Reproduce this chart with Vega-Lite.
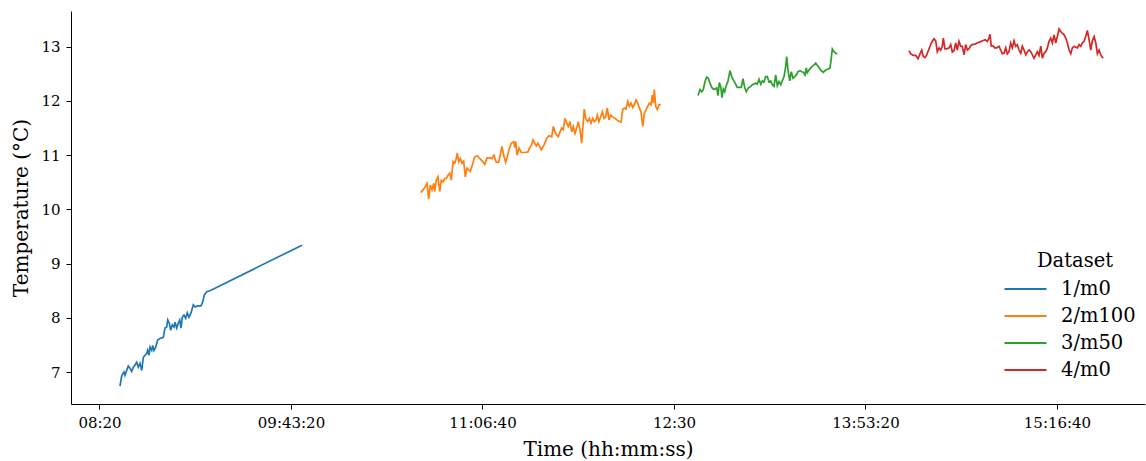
{
  "$schema": "https://vega.github.io/schema/vega-lite/v6.json",
  "width": 1074,
  "height": 393,
  "autosize": {"type": "none"},
  "padding": {"left": 71, "top": 11, "right": 1, "bottom": 57},
  "background": "white",
  "config": {
    "view": {"stroke": null},
    "font": "DejaVu Serif",
    "axis": {
      "grid": false,
      "domainColor": "black",
      "domainWidth": 1,
      "tickColor": "black",
      "tickSize": 5,
      "tickWidth": 1,
      "labelColor": "black",
      "titleColor": "black",
      "labelFont": "DejaVu Serif",
      "titleFont": "DejaVu Serif",
      "titleFontWeight": "normal"
    },
    "legend": {
      "labelFont": "DejaVu Serif",
      "titleFont": "DejaVu Serif",
      "titleFontWeight": "normal",
      "labelColor": "black",
      "titleColor": "black"
    }
  },
  "data": {
    "values": [
      {"d":"1/m0","t":30535,"v":6.74},{"d":"1/m0","t":30574,"v":6.91},{"d":"1/m0","t":30601,"v":6.96},{"d":"1/m0","t":30640,"v":7.0},
      {"d":"1/m0","t":30666,"v":6.94},{"d":"1/m0","t":30710,"v":7.03},{"d":"1/m0","t":30752,"v":7.11},{"d":"1/m0","t":30796,"v":7.07},
      {"d":"1/m0","t":30841,"v":7.01},{"d":"1/m0","t":30883,"v":7.09},{"d":"1/m0","t":30927,"v":7.13},{"d":"1/m0","t":30972,"v":7.18},
      {"d":"1/m0","t":31013,"v":7.09},{"d":"1/m0","t":31057,"v":7.16},{"d":"1/m0","t":31102,"v":7.03},{"d":"1/m0","t":31144,"v":7.27},
      {"d":"1/m0","t":31188,"v":7.31},{"d":"1/m0","t":31232,"v":7.34},{"d":"1/m0","t":31259,"v":7.40},{"d":"1/m0","t":31292,"v":7.31},
      {"d":"1/m0","t":31319,"v":7.46},{"d":"1/m0","t":31363,"v":7.40},{"d":"1/m0","t":31389,"v":7.49},{"d":"1/m0","t":31423,"v":7.40},
      {"d":"1/m0","t":31467,"v":7.46},{"d":"1/m0","t":31520,"v":7.59},{"d":"1/m0","t":31580,"v":7.62},{"d":"1/m0","t":31666,"v":7.64},
      {"d":"1/m0","t":31710,"v":7.81},{"d":"1/m0","t":31755,"v":7.83},{"d":"1/m0","t":31781,"v":7.96},{"d":"1/m0","t":31822,"v":7.90},
      {"d":"1/m0","t":31859,"v":7.77},{"d":"1/m0","t":31901,"v":7.87},{"d":"1/m0","t":31945,"v":7.83},{"d":"1/m0","t":31971,"v":7.92},
      {"d":"1/m0","t":32016,"v":7.81},{"d":"1/m0","t":32057,"v":7.90},{"d":"1/m0","t":32094,"v":7.96},{"d":"1/m0","t":32128,"v":7.81},
      {"d":"1/m0","t":32162,"v":8.01},{"d":"1/m0","t":32206,"v":8.05},{"d":"1/m0","t":32251,"v":7.99},{"d":"1/m0","t":32292,"v":8.09},
      {"d":"1/m0","t":32337,"v":8.01},{"d":"1/m0","t":32389,"v":8.09},{"d":"1/m0","t":32449,"v":8.24},{"d":"1/m0","t":32494,"v":8.20},
      {"d":"1/m0","t":32564,"v":8.22},{"d":"1/m0","t":32650,"v":8.22},{"d":"1/m0","t":32695,"v":8.29},{"d":"1/m0","t":32736,"v":8.42},
      {"d":"1/m0","t":32799,"v":8.48},{"d":"1/m0","t":32885,"v":8.50},{"d":"1/m0","t":35287,"v":9.34},

      {"d":"2/m100","t":38387,"v":10.31},{"d":"2/m100","t":38447,"v":10.36},{"d":"2/m100","t":38507,"v":10.42},{"d":"2/m100","t":38551,"v":10.48},
      {"d":"2/m100","t":38595,"v":10.19},{"d":"2/m100","t":38637,"v":10.45},{"d":"2/m100","t":38682,"v":10.36},{"d":"2/m100","t":38726,"v":10.48},
      {"d":"2/m100","t":38752,"v":10.33},{"d":"2/m100","t":38794,"v":10.54},{"d":"2/m100","t":38838,"v":10.60},{"d":"2/m100","t":38883,"v":10.33},
      {"d":"2/m100","t":38924,"v":10.54},{"d":"2/m100","t":38969,"v":10.51},{"d":"2/m100","t":39013,"v":10.57},{"d":"2/m100","t":39055,"v":10.57},
      {"d":"2/m100","t":39099,"v":10.63},{"d":"2/m100","t":39144,"v":10.67},{"d":"2/m100","t":39186,"v":10.54},{"d":"2/m100","t":39230,"v":10.88},
      {"d":"2/m100","t":39274,"v":10.85},{"d":"2/m100","t":39316,"v":10.94},{"d":"2/m100","t":39342,"v":11.04},{"d":"2/m100","t":39379,"v":10.88},
      {"d":"2/m100","t":39421,"v":10.94},{"d":"2/m100","t":39465,"v":10.85},{"d":"2/m100","t":39509,"v":10.89},{"d":"2/m100","t":39551,"v":10.60},
      {"d":"2/m100","t":39595,"v":10.76},{"d":"2/m100","t":39640,"v":10.73},{"d":"2/m100","t":39682,"v":10.70},{"d":"2/m100","t":39734,"v":10.82},
      {"d":"2/m100","t":39797,"v":10.97},{"d":"2/m100","t":39864,"v":10.99},{"d":"2/m100","t":39927,"v":10.94},{"d":"2/m100","t":39995,"v":10.89},
      {"d":"2/m100","t":40058,"v":10.83},{"d":"2/m100","t":40118,"v":10.95},{"d":"2/m100","t":40188,"v":10.95},{"d":"2/m100","t":40248,"v":10.94},
      {"d":"2/m100","t":40300,"v":11.00},{"d":"2/m100","t":40360,"v":10.87},{"d":"2/m100","t":40423,"v":10.87},{"d":"2/m100","t":40475,"v":11.04},
      {"d":"2/m100","t":40509,"v":11.16},{"d":"2/m100","t":40562,"v":10.97},{"d":"2/m100","t":40606,"v":10.87},{"d":"2/m100","t":40648,"v":10.97},
      {"d":"2/m100","t":40692,"v":11.10},{"d":"2/m100","t":40752,"v":11.22},{"d":"2/m100","t":40815,"v":11.25},{"d":"2/m100","t":40841,"v":11.14},
      {"d":"2/m100","t":40867,"v":11.25},{"d":"2/m100","t":40901,"v":11.00},{"d":"2/m100","t":40953,"v":11.13},{"d":"2/m100","t":41013,"v":11.05},
      {"d":"2/m100","t":41102,"v":11.05},{"d":"2/m100","t":41188,"v":11.06},{"d":"2/m100","t":41232,"v":11.14},{"d":"2/m100","t":41274,"v":11.18},
      {"d":"2/m100","t":41319,"v":11.28},{"d":"2/m100","t":41363,"v":11.22},{"d":"2/m100","t":41405,"v":11.17},{"d":"2/m100","t":41449,"v":11.22},
      {"d":"2/m100","t":41494,"v":11.16},{"d":"2/m100","t":41535,"v":11.10},{"d":"2/m100","t":41616,"v":11.20},{"d":"2/m100","t":41677,"v":11.31},
      {"d":"2/m100","t":41737,"v":11.36},{"d":"2/m100","t":41807,"v":11.34},{"d":"2/m100","t":41851,"v":11.53},{"d":"2/m100","t":41893,"v":11.43},
      {"d":"2/m100","t":41938,"v":11.37},{"d":"2/m100","t":41979,"v":11.34},{"d":"2/m100","t":42024,"v":11.43},{"d":"2/m100","t":42068,"v":11.50},
      {"d":"2/m100","t":42110,"v":11.47},{"d":"2/m100","t":42154,"v":11.68},{"d":"2/m100","t":42199,"v":11.59},{"d":"2/m100","t":42240,"v":11.53},
      {"d":"2/m100","t":42285,"v":11.62},{"d":"2/m100","t":42329,"v":11.43},{"d":"2/m100","t":42371,"v":11.53},{"d":"2/m100","t":42415,"v":11.40},
      {"d":"2/m100","t":42460,"v":11.50},{"d":"2/m100","t":42501,"v":11.62},{"d":"2/m100","t":42546,"v":11.47},{"d":"2/m100","t":42590,"v":11.22},
      {"d":"2/m100","t":42632,"v":11.62},{"d":"2/m100","t":42658,"v":11.85},{"d":"2/m100","t":42695,"v":11.68},{"d":"2/m100","t":42747,"v":11.62},
      {"d":"2/m100","t":42789,"v":11.68},{"d":"2/m100","t":42833,"v":11.59},{"d":"2/m100","t":42878,"v":11.68},{"d":"2/m100","t":42919,"v":11.62},
      {"d":"2/m100","t":42964,"v":11.65},{"d":"2/m100","t":42998,"v":11.74},{"d":"2/m100","t":43042,"v":11.62},{"d":"2/m100","t":43086,"v":11.71},
      {"d":"2/m100","t":43128,"v":11.80},{"d":"2/m100","t":43173,"v":11.68},{"d":"2/m100","t":43217,"v":11.71},{"d":"2/m100","t":43259,"v":11.87},
      {"d":"2/m100","t":43303,"v":11.65},{"d":"2/m100","t":43348,"v":11.74},{"d":"2/m100","t":43389,"v":11.71},{"d":"2/m100","t":43460,"v":11.68},
      {"d":"2/m100","t":43546,"v":11.63},{"d":"2/m100","t":43616,"v":11.61},{"d":"2/m100","t":43661,"v":11.84},{"d":"2/m100","t":43703,"v":11.87},
      {"d":"2/m100","t":43747,"v":11.85},{"d":"2/m100","t":43791,"v":11.99},{"d":"2/m100","t":43833,"v":11.90},{"d":"2/m100","t":43878,"v":11.96},
      {"d":"2/m100","t":43922,"v":11.88},{"d":"2/m100","t":43964,"v":11.93},{"d":"2/m100","t":44008,"v":12.02},{"d":"2/m100","t":44053,"v":11.96},
      {"d":"2/m100","t":44095,"v":11.87},{"d":"2/m100","t":44139,"v":11.80},{"d":"2/m100","t":44184,"v":11.53},{"d":"2/m100","t":44225,"v":11.77},
      {"d":"2/m100","t":44270,"v":11.84},{"d":"2/m100","t":44314,"v":11.90},{"d":"2/m100","t":44356,"v":11.96},{"d":"2/m100","t":44400,"v":11.93},
      {"d":"2/m100","t":44435,"v":12.11},{"d":"2/m100","t":44461,"v":11.96},{"d":"2/m100","t":44486,"v":12.21},{"d":"2/m100","t":44524,"v":11.90},
      {"d":"2/m100","t":44565,"v":11.84},{"d":"2/m100","t":44610,"v":11.93},{"d":"2/m100","t":44653,"v":11.94},

      {"d":"3/m50","t":45627,"v":12.10},{"d":"3/m50","t":45679,"v":12.21},{"d":"3/m50","t":45723,"v":12.17},{"d":"3/m50","t":45765,"v":12.21},
      {"d":"3/m50","t":45810,"v":12.36},{"d":"3/m50","t":45854,"v":12.44},{"d":"3/m50","t":45896,"v":12.42},{"d":"3/m50","t":45940,"v":12.33},
      {"d":"3/m50","t":45985,"v":12.25},{"d":"3/m50","t":46026,"v":12.22},{"d":"3/m50","t":46071,"v":12.22},{"d":"3/m50","t":46115,"v":12.24},
      {"d":"3/m50","t":46149,"v":12.10},{"d":"3/m50","t":46183,"v":12.34},{"d":"3/m50","t":46220,"v":12.27},{"d":"3/m50","t":46253,"v":12.06},
      {"d":"3/m50","t":46287,"v":12.22},{"d":"3/m50","t":46324,"v":12.17},{"d":"3/m50","t":46358,"v":12.27},{"d":"3/m50","t":46410,"v":12.37},
      {"d":"3/m50","t":46462,"v":12.56},{"d":"3/m50","t":46507,"v":12.45},{"d":"3/m50","t":46549,"v":12.39},{"d":"3/m50","t":46611,"v":12.31},
      {"d":"3/m50","t":46653,"v":12.25},{"d":"3/m50","t":46697,"v":12.25},{"d":"3/m50","t":46757,"v":12.25},{"d":"3/m50","t":46802,"v":12.41},
      {"d":"3/m50","t":46846,"v":12.25},{"d":"3/m50","t":46888,"v":12.17},{"d":"3/m50","t":46940,"v":12.24},{"d":"3/m50","t":47003,"v":12.27},
      {"d":"3/m50","t":47045,"v":12.30},{"d":"3/m50","t":47089,"v":12.31},{"d":"3/m50","t":47133,"v":12.33},{"d":"3/m50","t":47175,"v":12.31},
      {"d":"3/m50","t":47220,"v":12.40},{"d":"3/m50","t":47264,"v":12.31},{"d":"3/m50","t":47306,"v":12.37},{"d":"3/m50","t":47350,"v":12.35},
      {"d":"3/m50","t":47394,"v":12.45},{"d":"3/m50","t":47436,"v":12.45},{"d":"3/m50","t":47481,"v":12.35},{"d":"3/m50","t":47525,"v":12.37},
      {"d":"3/m50","t":47567,"v":12.30},{"d":"3/m50","t":47611,"v":12.27},{"d":"3/m50","t":47656,"v":12.48},{"d":"3/m50","t":47698,"v":12.28},
      {"d":"3/m50","t":47742,"v":12.36},{"d":"3/m50","t":47786,"v":12.30},{"d":"3/m50","t":47828,"v":12.37},{"d":"3/m50","t":47874,"v":12.45},
      {"d":"3/m50","t":47917,"v":12.64},{"d":"3/m50","t":47943,"v":12.82},{"d":"3/m50","t":47977,"v":12.57},{"d":"3/m50","t":48021,"v":12.37},
      {"d":"3/m50","t":48063,"v":12.54},{"d":"3/m50","t":48107,"v":12.42},{"d":"3/m50","t":48153,"v":12.45},{"d":"3/m50","t":48194,"v":12.48},
      {"d":"3/m50","t":48238,"v":12.54},{"d":"3/m50","t":48290,"v":12.56},{"d":"3/m50","t":48335,"v":12.54},{"d":"3/m50","t":48376,"v":12.53},
      {"d":"3/m50","t":48421,"v":12.48},{"d":"3/m50","t":48455,"v":12.61},{"d":"3/m50","t":48481,"v":12.52},{"d":"3/m50","t":48525,"v":12.57},
      {"d":"3/m50","t":48570,"v":12.61},{"d":"3/m50","t":48630,"v":12.65},{"d":"3/m50","t":48700,"v":12.70},{"d":"3/m50","t":48760,"v":12.64},
      {"d":"3/m50","t":48831,"v":12.57},{"d":"3/m50","t":48899,"v":12.53},{"d":"3/m50","t":48961,"v":12.57},{"d":"3/m50","t":49029,"v":12.59},
      {"d":"3/m50","t":49074,"v":12.61},{"d":"3/m50","t":49108,"v":12.80},{"d":"3/m50","t":49134,"v":12.96},{"d":"3/m50","t":49178,"v":12.91},
      {"d":"3/m50","t":49222,"v":12.88},{"d":"3/m50","t":49264,"v":12.87},

      {"d":"4/m0","t":51136,"v":12.93},{"d":"4/m0","t":51180,"v":12.87},{"d":"4/m0","t":51249,"v":12.84},{"d":"4/m0","t":51311,"v":12.84},
      {"d":"4/m0","t":51371,"v":12.78},{"d":"4/m0","t":51423,"v":12.87},{"d":"4/m0","t":51468,"v":12.94},{"d":"4/m0","t":51510,"v":12.82},
      {"d":"4/m0","t":51554,"v":12.80},{"d":"4/m0","t":51598,"v":12.85},{"d":"4/m0","t":51658,"v":12.96},{"d":"4/m0","t":51719,"v":13.07},
      {"d":"4/m0","t":51789,"v":13.15},{"d":"4/m0","t":51833,"v":13.11},{"d":"4/m0","t":51875,"v":12.91},{"d":"4/m0","t":51920,"v":12.98},
      {"d":"4/m0","t":51964,"v":12.94},{"d":"4/m0","t":52006,"v":13.01},{"d":"4/m0","t":52032,"v":13.16},{"d":"4/m0","t":52076,"v":12.96},
      {"d":"4/m0","t":52121,"v":12.96},{"d":"4/m0","t":52181,"v":12.98},{"d":"4/m0","t":52225,"v":13.04},{"d":"4/m0","t":52267,"v":12.90},
      {"d":"4/m0","t":52311,"v":12.93},{"d":"4/m0","t":52355,"v":13.07},{"d":"4/m0","t":52397,"v":12.94},{"d":"4/m0","t":52442,"v":13.10},
      {"d":"4/m0","t":52486,"v":13.01},{"d":"4/m0","t":52528,"v":13.01},{"d":"4/m0","t":52572,"v":12.85},{"d":"4/m0","t":52617,"v":13.04},
      {"d":"4/m0","t":52658,"v":12.94},{"d":"4/m0","t":52703,"v":12.96},{"d":"4/m0","t":52747,"v":13.02},{"d":"4/m0","t":52789,"v":13.04},
      {"d":"4/m0","t":52852,"v":13.05},{"d":"4/m0","t":52919,"v":13.07},{"d":"4/m0","t":52990,"v":13.09},{"d":"4/m0","t":53060,"v":13.11},
      {"d":"4/m0","t":53128,"v":13.13},{"d":"4/m0","t":53181,"v":13.10},{"d":"4/m0","t":53225,"v":13.16},{"d":"4/m0","t":53251,"v":13.23},
      {"d":"4/m0","t":53285,"v":13.01},{"d":"4/m0","t":53329,"v":13.02},{"d":"4/m0","t":53374,"v":12.98},{"d":"4/m0","t":53426,"v":12.98},
      {"d":"4/m0","t":53486,"v":13.01},{"d":"4/m0","t":53530,"v":12.94},{"d":"4/m0","t":53572,"v":12.87},{"d":"4/m0","t":53617,"v":12.88},
      {"d":"4/m0","t":53661,"v":12.98},{"d":"4/m0","t":53703,"v":12.87},{"d":"4/m0","t":53747,"v":12.91},{"d":"4/m0","t":53792,"v":13.07},
      {"d":"4/m0","t":53834,"v":12.98},{"d":"4/m0","t":53878,"v":13.11},{"d":"4/m0","t":53922,"v":13.01},{"d":"4/m0","t":53964,"v":13.04},
      {"d":"4/m0","t":54008,"v":12.94},{"d":"4/m0","t":54053,"v":12.88},{"d":"4/m0","t":54095,"v":13.01},{"d":"4/m0","t":54139,"v":12.94},
      {"d":"4/m0","t":54185,"v":12.85},{"d":"4/m0","t":54227,"v":12.91},{"d":"4/m0","t":54271,"v":12.94},{"d":"4/m0","t":54316,"v":12.91},
      {"d":"4/m0","t":54357,"v":12.85},{"d":"4/m0","t":54400,"v":12.79},{"d":"4/m0","t":54446,"v":12.85},{"d":"4/m0","t":54488,"v":12.91},
      {"d":"4/m0","t":54531,"v":12.84},{"d":"4/m0","t":54577,"v":13.01},{"d":"4/m0","t":54618,"v":12.79},{"d":"4/m0","t":54662,"v":12.88},
      {"d":"4/m0","t":54707,"v":12.91},{"d":"4/m0","t":54749,"v":12.98},{"d":"4/m0","t":54793,"v":13.10},{"d":"4/m0","t":54837,"v":13.16},
      {"d":"4/m0","t":54879,"v":13.07},{"d":"4/m0","t":54924,"v":13.22},{"d":"4/m0","t":54968,"v":13.07},{"d":"4/m0","t":55010,"v":13.19},
      {"d":"4/m0","t":55055,"v":13.33},{"d":"4/m0","t":55099,"v":13.28},{"d":"4/m0","t":55141,"v":13.25},{"d":"4/m0","t":55185,"v":13.22},
      {"d":"4/m0","t":55229,"v":13.16},{"d":"4/m0","t":55271,"v":13.07},{"d":"4/m0","t":55316,"v":12.94},{"d":"4/m0","t":55360,"v":12.87},
      {"d":"4/m0","t":55402,"v":12.98},{"d":"4/m0","t":55446,"v":13.01},{"d":"4/m0","t":55490,"v":12.99},{"d":"4/m0","t":55532,"v":12.98},
      {"d":"4/m0","t":55577,"v":13.04},{"d":"4/m0","t":55621,"v":13.01},{"d":"4/m0","t":55663,"v":13.07},{"d":"4/m0","t":55707,"v":13.10},
      {"d":"4/m0","t":55751,"v":13.19},{"d":"4/m0","t":55793,"v":13.30},{"d":"4/m0","t":55838,"v":13.13},{"d":"4/m0","t":55882,"v":12.94},
      {"d":"4/m0","t":55924,"v":13.11},{"d":"4/m0","t":55969,"v":13.19},{"d":"4/m0","t":56013,"v":13.07},{"d":"4/m0","t":56055,"v":12.87},
      {"d":"4/m0","t":56099,"v":12.94},{"d":"4/m0","t":56143,"v":12.85},{"d":"4/m0","t":56202,"v":12.79}
    ]
  },
  "mark": {"type": "line", "strokeWidth": 1.7, "clip": true},
  "encoding": {
    "x": {
      "field": "t",
      "type": "quantitative",
      "scale": {"domain": [29256, 57298], "nice": false, "zero": false},
      "axis": {
        "title": "Time (hh:mm:ss)",
        "values": [30000, 35000, 40000, 45000, 50000, 55000],
        "labelExpr": "pad('' + floor(datum.value / 3600), 2, '0', 'left') + ':' + pad('' + floor((datum.value % 3600) / 60), 2, '0', 'left') + (datum.value % 60 == 0 ? '' : ':' + pad('' + (datum.value % 60), 2, '0', 'left'))",
        "labelFontSize": 15,
        "titleFontSize": 20,
        "labelPadding": 6,
        "titlePadding": 9
      }
    },
    "y": {
      "field": "v",
      "type": "quantitative",
      "scale": {"domain": [6.41, 13.66], "nice": false, "zero": false},
      "axis": {
        "title": "Temperature (°C)",
        "values": [7, 8, 9, 10, 11, 12, 13],
        "labelFontSize": 15,
        "titleFontSize": 20,
        "labelPadding": 6,
        "titlePadding": 9
      }
    },
    "color": {
      "field": "d",
      "type": "nominal",
      "scale": {
        "domain": ["1/m0", "2/m100", "3/m50", "4/m0"],
        "range": ["#1f77b4", "#ff7f0e", "#2ca02c", "#d62728"]
      },
      "legend": {
        "title": "Dataset",
        "orient": "none",
        "legendX": 943,
        "legendY": 241,
        "symbolType": "M-2,0L2,0",
        "symbolSize": 441,
        "symbolStrokeWidth": 2,
        "titleFontSize": 19.5,
        "labelFontSize": 19.5,
        "titleAnchor": "middle",
        "titlePadding": 6,
        "rowPadding": 6,
        "labelOffset": 24
      }
    }
  }
}
